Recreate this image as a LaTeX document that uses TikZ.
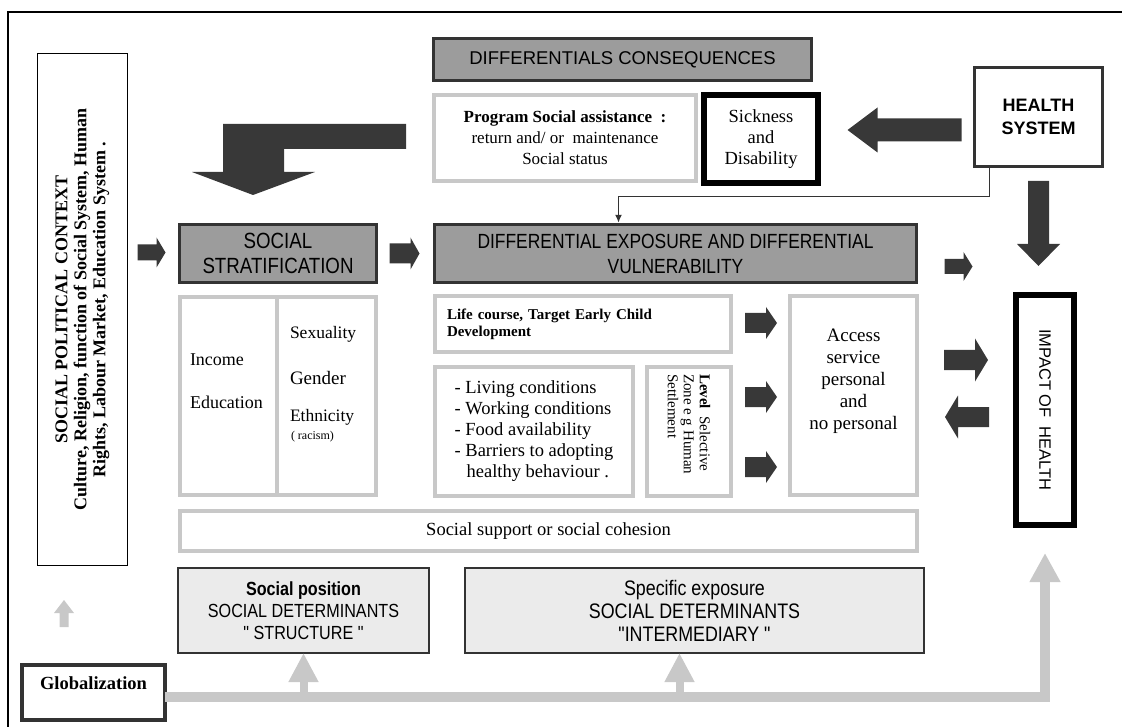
\documentclass[tikz,border=0pt]{standalone}
\usepackage{fontspec}
\setmainfont{Liberation Serif}
\newfontfamily\arial{Liberation Sans}
\newfontfamily\narrow[FakeStretch=0.85]{Liberation Sans}
\usetikzlibrary{calc,arrows.meta}

\definecolor{arrowfill}{HTML}{383838}
\definecolor{headfill}{HTML}{9C9C9C}
\definecolor{darkline}{HTML}{333333}
\definecolor{paleline}{HTML}{C8C8C8}
\definecolor{detfill}{HTML}{EBEBEB}

\newcommand\sz[2]{\fontsize{#1}{#2}\selectfont}
% block arrow: [colour]{start}{angle}{length}{shaft}{head width}{head length}
\newcommand\fatarrow[7][arrowfill]{%
  \fill [#1, shift={#2}, rotate=#3] (0,{#5/2}) -- ({#4-#7},{#5/2}) -- ({#4-#7},{#6/2}) -- (#4,0)
    -- ({#4-#7},{-#6/2}) -- ({#4-#7},{-#5/2}) -- (0,{-#5/2}) -- cycle;}

\begin{document}
\begin{tikzpicture}[x=1pt, y=-1pt]
\tikzset{ >=latex, inner sep=0pt, outer sep=0pt,
  headbox/.style={draw=darkline, fill=headfill, line width=3.5pt, align=center},
  lightbox/.style={draw=paleline, fill=white, line width=4pt},
  blackbox/.style={draw=black, fill=white, line width=6pt, align=center},
  detbox/.style={draw=darkline, fill=detfill, line width=1.2pt, align=center},
  busline/.style={draw=paleline, line width=10pt},
}
\useasboundingbox (0,0) rectangle (1122,727);
\draw [line width=2pt] (8,727) -- (8,12) -- (1122,12);

% context on the left
\node [draw, line width=1pt, rotate=90, minimum width=512pt, minimum height=90pt, align=center,
       font=\bfseries\sz{18}{19}] (spc) at (82.5,309.5)
  {SOCIAL POLITICAL CONTEXT\\Culture, Religion, function of Social System, Human\\Rights, Labour Market, Education System .};

% top row
\node [headbox, minimum width=378pt, minimum height=42pt, font=\arial\sz{18.5}{22}] (dc) at (622.5,59.5) {DIFFERENTIALS CONSEQUENCES};
\node [lightbox, minimum width=262pt, minimum height=86pt, align=center, font=\sz{17}{21}] (pa) at (565,138)
  {\textbf{Program Social assistance\ \ :}\\return and/ or\ \ maintenance\\Social status};
\node [blackbox, minimum width=114pt, minimum height=88pt, font=\sz{18.5}{21}] (sd) at (761,139) {Sickness\\and\\Disability};
\node [draw=darkline, line width=3.5pt, fill=white, minimum width=128pt, minimum height=99pt, align=center,
       font=\arial\bfseries\sz{18}{23}] (hs) at (1038.5,117) {HEALTH\\SYSTEM};

\fill [arrowfill] (406,124) -- (223,124) -- (223,172) -- (192,172) -- (253,195) -- (315,172)
  -- (284,172) -- (284,149) -- (406,149) -- cycle;

% stratification and exposure
\node [headbox, minimum width=197pt, minimum height=58pt, font=\narrow\sz{22}{25}] (ss) at (278,253.5) {SOCIAL\\STRATIFICATION};
\node [headbox, minimum width=482pt, minimum height=58pt, font=\narrow\sz{20.5}{25}] (dx) at (675.5,253.5)
  {DIFFERENTIAL EXPOSURE AND DIFFERENTIAL\\VULNERABILITY};

\node [lightbox, minimum width=97pt, minimum height=198pt] (ie) at (228.5,396) {};
\node [lightbox, minimum width=99pt, minimum height=198pt] (sge) at (326.5,396) {};
\node [anchor=west, align=left, font=\sz{18}{43}] (inc) at (190,381) {Income\\Education};
\node [anchor=west, font=\sz{17.5}{20}] (sex) at (290,334) {Sexuality};
\node [anchor=west, font=\sz{19}{22}] (gen) at (290,378) {Gender};
\node [anchor=west, font=\sz{17.5}{20}] (eth) at (290,417) {Ethnicity};
\node [anchor=west, font=\sz{12}{14}] (rac) at (291,437) {( racism)};

\node [lightbox, minimum width=296pt, minimum height=56pt, text width=272pt, align=left,
       font=\bfseries\sz{15}{17}] (lc) at (583,324) {Life course, Target Early Child\\Development};
\node [lightbox, minimum width=198pt, minimum height=129pt, align=left, font=\sz{18.5}{21}] (lv) at (534,431.5)
  {- Living conditions\\- Working conditions\\- Food availability\\- Barriers to adopting\\\hspace*{12pt}healthy behaviour .};
\node [lightbox, minimum width=84pt, minimum height=129pt] (lvl) at (689,431.5) {};
\node [rotate=-90, anchor=west, align=left, font=\sz{15}{16}] (lvltext) at (689,374)
  {\textbf{Level}\ \ Selective\\Zone e g Human\\Settlement};

\node [lightbox, minimum width=127pt, minimum height=199pt] (ac) at (853.5,395.5) {};
\node [align=center, font=\sz{19}{22}] (actext) at (853.5,381) {Access\\service\\personal\\and\\no personal};

\node [blackbox, minimum width=58pt, minimum height=230pt] (ih) at (1045,410) {};
\node [rotate=-90, font=\arial\sz{16.5}{20}] (ihtext) at (1045,410) {IMPACT OF\ \ HEALTH};

\node [lightbox, minimum width=737pt, minimum height=40pt, font=\sz{18.5}{21}] (scs) at (548.5,531) {Social support or social cohesion};

% determinants
\node [detbox, minimum width=251pt, minimum height=85pt, font=\narrow\sz{19}{22}] (sp) at (303.5,610.5)
  {\textbf{Social position}\\SOCIAL DETERMINANTS\\" STRUCTURE "};
\node [detbox, minimum width=459pt, minimum height=85pt, font=\narrow\sz{21}{23}] (si) at (694.5,610.5)
  {Specific exposure\\SOCIAL DETERMINANTS\\"INTERMEDIARY "};

\node [draw=darkline, line width=4pt, fill=white, minimum width=143pt, minimum height=55pt] (gl) at (93.5,692.5) {};
\node [font=\bfseries\sz{18.5}{22}] (gltext) at (93.5,683) {Globalization};

% block arrows
\fatarrow{($(hs.west)+(-13,13)$)}{180}{114}{23}{45}{30}
\fatarrow{($(hs.south)+(0,14.5)$)}{-90}{85}{21}{43}{22}
\fatarrow{($(ss.west)+(-42,-1)$)}{0}{28}{16}{30}{9}
\fatarrow{($(ss.east)+(13,0)$)}{0}{30}{20}{32}{9}
\fatarrow{($(dx.east)+(28,13)$)}{0}{28}{15}{29}{9}
\fatarrow{($(lc.east)+(14,-1)$)}{0}{32}{20}{32}{11}
\fatarrow{($(lvl.east)+(14,-34.5)$)}{0}{32}{20}{32}{11}
\fatarrow{($(lvl.east)+(14,35.5)$)}{0}{32}{20}{32}{11}
\fatarrow{($(ac.east)+(27,-35.5)$)}{0}{44}{20}{43}{13}
\fatarrow{($(ih.west)+(-27,7)$)}{180}{44}{20}{43}{13}
\fatarrow[paleline]{($(gl.north west)+(42,-38)$)}{90}{27}{9}{20}{13}

\draw [darkline, line width=1.5pt, -{Latex[length=8pt, width=7pt]}] ($(hs.south west)+(15,0)$)
  |- ($(dx.north west)+(184,-28)$) -- ($(dx.north west)+(184,-1.7)$);

% globalization feeds
\coordinate (bus) at ($(gl.east)+(0,4.5)$);
\draw [busline, -{Triangle[length=29pt 0, width=29pt 0]}] (bus) -| ($(ih.south)+(0,28)$);
\draw [busline, line width=8pt, -{Triangle[length=29pt 0, width=28pt 0]}] (bus -| sp.south) -- (sp.south);
\draw [busline, line width=8pt, -{Triangle[length=29pt 0, width=28pt 0]}] ($(bus -| si.south)+(-15,0)$) -- ($(si.south)+(-15,0)$);

\end{tikzpicture}
\end{document}
